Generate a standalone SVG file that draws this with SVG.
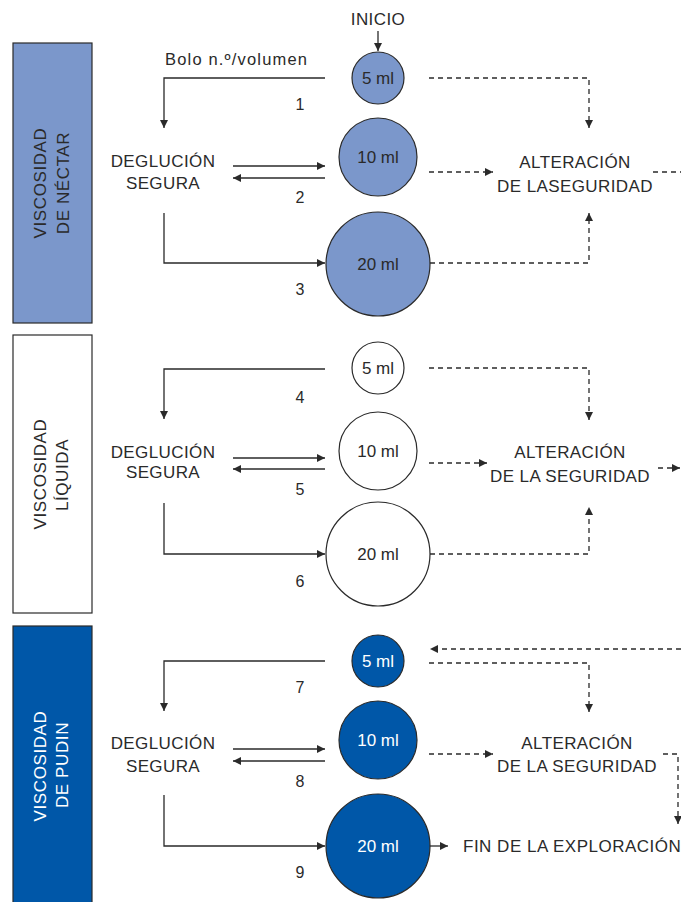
<svg xmlns="http://www.w3.org/2000/svg" width="681" height="902" viewBox="0 0 681 902">
  <style>
    text { font-family: "Liberation Sans", Arial, sans-serif; fill: #2a2a2a; }
    .lbl { font-size: 17px; text-anchor: middle; letter-spacing: 0.4px; }
    .ml { font-size: 17px; text-anchor: middle; }
    .num { font-size: 16px; text-anchor: middle; }
    .vert { font-size: 17px; text-anchor: middle; letter-spacing: 0.6px; }
    .inv { fill: #ffffff; }
    .box { stroke: #2a2a2a; stroke-width: 1.2; }
    .circ { stroke: #2a2a2a; stroke-width: 1.2; }
    .solid { fill: none; stroke: #2a2a2a; stroke-width: 1.3; marker-end: url(#head); }
    .dash { fill: none; stroke: #2a2a2a; stroke-width: 1.3; stroke-dasharray: 5 4; }
    .dash.arr { marker-end: url(#head); }
  </style>
  <defs>
    <marker id="head" viewBox="0 0 10 10" refX="10" refY="5" markerWidth="9" markerHeight="8" markerUnits="userSpaceOnUse" orient="auto">
      <path d="M0,0 L10,5 L0,10 z" fill="#2a2a2a"/>
    </marker>
  </defs>
  <rect width="681" height="902" fill="#ffffff"/>

  <!-- viscosity bands -->
  <g id="band-nectar">
    <rect class="box" x="13" y="43" width="79" height="280" fill="#7b97cb"/>
    <text class="vert" transform="translate(46,183) rotate(-90)">VISCOSIDAD</text>
    <text class="vert" transform="translate(69,183) rotate(-90)">DE NÉCTAR</text>
  </g>
  <g id="band-liquida">
    <rect class="box" x="13" y="335" width="79" height="278" fill="#ffffff"/>
    <text class="vert" transform="translate(46,474) rotate(-90)">VISCOSIDAD</text>
    <text class="vert" transform="translate(68,475) rotate(-90)">LÍQUIDA</text>
  </g>
  <g id="band-pudin">
    <rect class="box" x="13" y="626" width="79" height="290" fill="#0057a8"/>
    <text class="vert inv" transform="translate(46,766) rotate(-90)">VISCOSIDAD</text>
    <text class="vert inv" transform="translate(68,765) rotate(-90)">DE PUDIN</text>
  </g>

  <!-- free labels -->
  <g id="inicio"><text class="lbl" x="378" y="25">INICIO</text></g>
  <g id="bolo"><text x="165" y="65" font-size="16.5" textLength="142" lengthAdjust="spacing">Bolo n.º/volumen</text></g>

  <!-- nectar bolus nodes -->
  <g id="n-5">
    <circle class="circ" cx="378" cy="78" r="26" fill="#7b97cb"/>
    <text class="ml" x="378" y="84">5 ml</text>
  </g>
  <g id="n-10">
    <circle class="circ" cx="378" cy="157" r="39" fill="#7b97cb"/>
    <text class="ml" x="378" y="163">10 ml</text>
  </g>
  <g id="n-20">
    <circle class="circ" cx="378" cy="264" r="52" fill="#7b97cb"/>
    <text class="ml" x="378" y="270">20 ml</text>
  </g>
  <g id="n-segura">
    <text class="lbl" x="163" y="167">DEGLUCIÓN</text>
    <text class="lbl" x="163" y="189">SEGURA</text>
  </g>
  <g id="n-alteracion">
    <text class="lbl" x="575" y="168">ALTERACIÓN</text>
    <text class="lbl" x="575" y="192">DE LASEGURIDAD</text>
  </g>

  <!-- liquid bolus nodes -->
  <g id="l-5">
    <circle class="circ" cx="378" cy="368" r="26" fill="#ffffff"/>
    <text class="ml" x="378" y="374">5 ml</text>
  </g>
  <g id="l-10">
    <circle class="circ" cx="378" cy="451" r="39" fill="#ffffff"/>
    <text class="ml" x="378" y="457">10 ml</text>
  </g>
  <g id="l-20">
    <circle class="circ" cx="378" cy="554" r="52" fill="#ffffff"/>
    <text class="ml" x="378" y="560">20 ml</text>
  </g>
  <g id="l-segura">
    <text class="lbl" x="163" y="458">DEGLUCIÓN</text>
    <text class="lbl" x="163" y="478">SEGURA</text>
  </g>
  <g id="l-alteracion">
    <text class="lbl" x="570" y="458">ALTERACIÓN</text>
    <text class="lbl" x="570" y="482">DE LA SEGURIDAD</text>
  </g>

  <!-- pudding bolus nodes -->
  <g id="p-5">
    <circle class="circ" cx="378" cy="661" r="26" fill="#0057a8"/>
    <text class="ml inv" x="378" y="667">5 ml</text>
  </g>
  <g id="p-10">
    <circle class="circ" cx="378" cy="740" r="39" fill="#0057a8"/>
    <text class="ml inv" x="378" y="746">10 ml</text>
  </g>
  <g id="p-20">
    <circle class="circ" cx="378" cy="846" r="52" fill="#0057a8"/>
    <text class="ml inv" x="378" y="852">20 ml</text>
  </g>
  <g id="p-segura">
    <text class="lbl" x="163" y="749">DEGLUCIÓN</text>
    <text class="lbl" x="163" y="772">SEGURA</text>
  </g>
  <g id="p-alteracion">
    <text class="lbl" x="577" y="749">ALTERACIÓN</text>
    <text class="lbl" x="577" y="772">DE LA SEGURIDAD</text>
  </g>
  <g id="fin">
    <text x="463" y="852" font-size="17" letter-spacing="0.5">FIN DE LA EXPLORACIÓN</text>
  </g>

  <!-- step numbers -->
  <g id="steps">
    <text class="num" x="300" y="110">1</text>
    <text class="num" x="300" y="203">2</text>
    <text class="num" x="300" y="295">3</text>
    <text class="num" x="300" y="403">4</text>
    <text class="num" x="300" y="495">5</text>
    <text class="num" x="300" y="587">6</text>
    <text class="num" x="300" y="693">7</text>
    <text class="num" x="300" y="787">8</text>
    <text class="num" x="300" y="878">9</text>
  </g>

  <!-- connectors -->
  <g id="connectors">
    <path class="solid" d="M378,31 V51"/>
    <!-- nectar -->
    <path class="solid" d="M325,78 H164 V128"/>
    <path class="solid" d="M233,166 H325"/>
    <path class="solid" d="M325,178 H233"/>
    <path class="solid" d="M164,213 V263 H325"/>
    <path class="dash arr" d="M429,78 H589 V128"/>
    <path class="dash arr" d="M429,172 H493"/>
    <path class="dash arr" d="M430,263 H589 V213"/>
    <path class="dash" d="M653,172 H681"/>
    <!-- liquid -->
    <path class="solid" d="M325,369 H164 V419"/>
    <path class="solid" d="M233,458 H325"/>
    <path class="solid" d="M325,469 H233"/>
    <path class="solid" d="M164,503 V554 H325"/>
    <path class="dash arr" d="M429,368 H589 V420"/>
    <path class="dash arr" d="M429,463 H487"/>
    <path class="dash arr" d="M430,554 H589 V507"/>
    <path class="dash arr" d="M658,468 H680"/>
    <!-- pudding -->
    <path class="solid" d="M325,661 H164 V711"/>
    <path class="solid" d="M233,749 H325"/>
    <path class="solid" d="M325,761 H233"/>
    <path class="solid" d="M164,795 V846 H325"/>
    <path class="solid" d="M430,846 H448"/>
    <path class="dash arr" d="M681,649 H430"/>
    <path class="dash arr" d="M429,663 H589 V712"/>
    <path class="dash arr" d="M429,754 H493"/>
    <path class="dash arr" d="M663,754 H678 V824"/>
  </g>
</svg>
